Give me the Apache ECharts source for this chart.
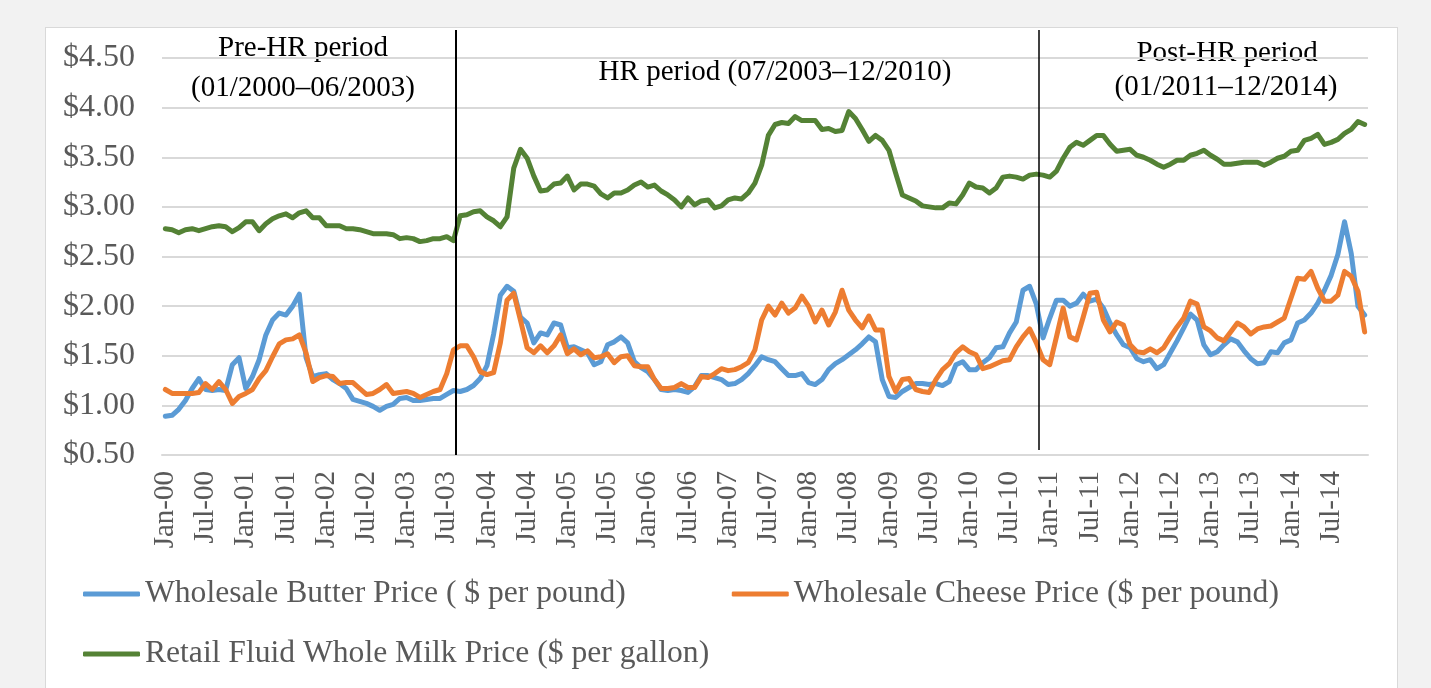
<!DOCTYPE html>
<html>
<head>
<meta charset="utf-8">
<script src="https://cdn.jsdelivr.net/npm/echarts@6/dist/echarts.min.js"></script>
<style>
html, body { margin: 0; padding: 0; width: 1431px; height: 688px; overflow: hidden; background: #f2f2f2; }
#panel { position: absolute; left: 45px; top: 27px; width: 1351px; height: 700px; background: #fff; border: 1px solid #d9d9d9; }
#chart { position: absolute; left: 0; top: 0; width: 1431px; height: 688px; }
</style>
</head>
<body>
<div id="panel"></div>
<div id="chart"></div>
<script>
// month axis, Jan 2000 .. Dec 2014
const monthNames = ['Jan','Feb','Mar','Apr','May','Jun','Jul','Aug','Sep','Oct','Nov','Dec'];
const years = ['00','01','02','03','04','05','06','07','08','09','10','11','12','13','14'];
const categories = [];
years.forEach(y => monthNames.forEach(m => categories.push(m + '-' + y)));

const seriesNames = [
    'Wholesale Butter Price ( $ per pound)',
    'Wholesale Cheese Price ($ per pound)',
    'Retail Fluid Whole Milk Price ($ per gallon)'
];

const butter = [
    0.89, 0.90, 0.96, 1.05, 1.17, 1.27, 1.16, 1.15, 1.16, 1.15, 1.41, 1.48,
    1.17, 1.29, 1.46, 1.71, 1.86, 1.93, 1.91, 2.00, 2.12, 1.48, 1.29, 1.31,
    1.32, 1.26, 1.22, 1.17, 1.06, 1.04, 1.02, 0.99, 0.95, 0.99, 1.01, 1.07,
    1.08, 1.05, 1.05, 1.06, 1.07, 1.07, 1.11, 1.15, 1.14, 1.16, 1.20, 1.27,
    1.40, 1.72, 2.11, 2.20, 2.15, 1.89, 1.83, 1.63, 1.73, 1.71, 1.83, 1.81,
    1.58, 1.59, 1.56, 1.53, 1.41, 1.44, 1.61, 1.64, 1.69, 1.63, 1.44, 1.38,
    1.34, 1.26, 1.16, 1.15, 1.16, 1.15, 1.13, 1.19, 1.30, 1.30, 1.28, 1.26,
    1.21, 1.22, 1.26, 1.32, 1.40, 1.49, 1.46, 1.44, 1.37, 1.30, 1.30, 1.32,
    1.23, 1.21, 1.26, 1.36, 1.42, 1.46, 1.51, 1.56, 1.62, 1.69, 1.64, 1.26,
    1.09, 1.08, 1.14, 1.18, 1.22, 1.22, 1.21, 1.22, 1.20, 1.24, 1.41, 1.44,
    1.36, 1.36, 1.43, 1.48, 1.58, 1.59, 1.73, 1.84, 2.16, 2.20, 2.02, 1.68,
    1.88, 2.06, 2.06, 2.00, 2.03, 2.12, 2.05, 2.07, 1.98, 1.83, 1.71, 1.61,
    1.58, 1.47, 1.44, 1.46, 1.37, 1.41, 1.53, 1.65, 1.78, 1.92, 1.86, 1.61,
    1.51, 1.54, 1.61, 1.67, 1.64, 1.55, 1.47, 1.42, 1.43, 1.54, 1.53, 1.63,
    1.66, 1.83, 1.86, 1.93, 2.03, 2.16, 2.31, 2.52, 2.85, 2.53, 2.00, 1.91
];

const cheese = [
    1.16, 1.12, 1.12, 1.12, 1.12, 1.13, 1.22, 1.16, 1.24, 1.16, 1.02, 1.09,
    1.12, 1.16, 1.27, 1.35, 1.49, 1.62, 1.66, 1.67, 1.71, 1.53, 1.24, 1.28,
    1.30, 1.29, 1.22, 1.23, 1.23, 1.17, 1.11, 1.12, 1.16, 1.21, 1.12, 1.13,
    1.14, 1.12, 1.08, 1.11, 1.14, 1.16, 1.32, 1.56, 1.60, 1.60, 1.49, 1.34,
    1.31, 1.33, 1.63, 2.06, 2.13, 1.86, 1.58, 1.53, 1.60, 1.53, 1.60, 1.71,
    1.52, 1.57, 1.51, 1.55, 1.48, 1.49, 1.52, 1.43, 1.49, 1.50, 1.40, 1.39,
    1.39, 1.26, 1.17, 1.17, 1.18, 1.22, 1.18, 1.18, 1.29, 1.28, 1.32, 1.37,
    1.35, 1.36, 1.39, 1.43, 1.56, 1.86, 2.00, 1.91, 2.03, 1.93, 1.98, 2.10,
    2.00, 1.84, 1.96, 1.81, 1.94, 2.16, 1.96, 1.86, 1.78, 1.90, 1.76, 1.76,
    1.29, 1.14, 1.26, 1.27, 1.16, 1.14, 1.13, 1.26, 1.36, 1.42, 1.53, 1.59,
    1.54, 1.51, 1.37, 1.39, 1.42, 1.45, 1.46, 1.59, 1.69, 1.77, 1.63, 1.46,
    1.41, 1.69, 1.98, 1.69, 1.66, 1.89, 2.13, 2.14, 1.86, 1.74, 1.84, 1.81,
    1.61, 1.54, 1.53, 1.57, 1.53, 1.58, 1.69, 1.79, 1.88, 2.05, 2.02, 1.79,
    1.75, 1.68, 1.65, 1.74, 1.83, 1.79, 1.72, 1.77, 1.79, 1.80, 1.84, 1.88,
    2.08, 2.28, 2.27, 2.35, 2.18, 2.05, 2.05, 2.11, 2.35, 2.30, 2.15, 1.74
];

const milk = [
    2.78, 2.77, 2.74, 2.77, 2.78, 2.76, 2.78, 2.80, 2.81, 2.80, 2.75, 2.79,
    2.85, 2.85, 2.76, 2.83, 2.88, 2.91, 2.93, 2.89, 2.94, 2.96, 2.89, 2.89,
    2.81, 2.81, 2.81, 2.78, 2.78, 2.77, 2.75, 2.73, 2.73, 2.73, 2.72, 2.68,
    2.69, 2.68, 2.65, 2.66, 2.68, 2.68, 2.70, 2.66, 2.91, 2.92, 2.95, 2.96,
    2.90, 2.86, 2.80, 2.90, 3.39, 3.58, 3.49, 3.31, 3.16, 3.17, 3.23, 3.24,
    3.31, 3.17, 3.23, 3.23, 3.21, 3.13, 3.09, 3.14, 3.14, 3.17, 3.22, 3.25,
    3.20, 3.22, 3.16, 3.12, 3.07, 3.00, 3.09, 3.02, 3.06, 3.07, 2.99, 3.01,
    3.07, 3.09, 3.08, 3.14, 3.24, 3.42, 3.72, 3.83, 3.85, 3.84, 3.91, 3.87,
    3.87, 3.87, 3.78, 3.79, 3.76, 3.77, 3.96, 3.89, 3.78, 3.66, 3.72, 3.67,
    3.57, 3.34, 3.12, 3.09, 3.06, 3.01, 3.00, 2.99, 2.99, 3.04, 3.03, 3.12,
    3.24, 3.20, 3.19, 3.14, 3.19, 3.30, 3.31, 3.30, 3.28, 3.32, 3.33, 3.32,
    3.30, 3.36, 3.49, 3.60, 3.65, 3.62, 3.67, 3.72, 3.72, 3.63, 3.56, 3.57,
    3.58, 3.52, 3.50, 3.47, 3.43, 3.40, 3.43, 3.47, 3.47, 3.52, 3.54, 3.57,
    3.52, 3.48, 3.43, 3.43, 3.44, 3.45, 3.45, 3.45, 3.42, 3.45, 3.49, 3.51,
    3.56, 3.57, 3.67, 3.69, 3.73, 3.63, 3.65, 3.68, 3.74, 3.78, 3.86, 3.83
];

// period boundaries, in months from Jan-2000
const periodBreaks = [43.84, 130.8];

const FONT = '"Liberation Serif", "Times New Roman", serif';
const colors = ['#5b9bd5', '#ed7d31', '#548235'];

const chart = echarts.init(document.getElementById('chart'));

const lineSeries = (name, data, color) => ({
    name: name,
    type: 'line',
    data: data,
    showSymbol: false,
    symbol: 'none',
    smooth: false,
    color: color,
    lineStyle: { color: color, width: 5, cap: 'round', join: 'round' },
    z: 3
});

const periodText = (text, x, y) => ({
    type: 'text',
    x: x,
    y: y,
    silent: true,
    style: {
        text: text,
        fill: '#000',
        font: '29px ' + FONT,
        textAlign: 'center',
        textVerticalAlign: 'middle'
    }
});

const legendBase = {
    left: 78,
    icon: 'roundRect',
    itemWidth: 57,
    itemHeight: 5,
    itemGap: 106,
    textStyle: { fontFamily: FONT, fontSize: 31.6, color: '#595959' },
    selectedMode: false
};

chart.setOption({
    backgroundColor: 'transparent',
    animation: false,
    textStyle: { fontFamily: FONT },
    grid: [
        { left: 162, right: 63, top: 58, bottom: 233, outerBoundsMode: 'none' },
        { left: 162, right: 63, top: 30, bottom: 233, outerBoundsMode: 'none' }
    ],
    legend: [
        Object.assign({}, legendBase, { top: 573, data: [seriesNames[0], seriesNames[1]] }),
        Object.assign({}, legendBase, { top: 633, data: [seriesNames[2]] })
    ],
    xAxis: [
        {
            type: 'category',
            data: categories,
            boundaryGap: true,
            axisLine: { show: true, lineStyle: { color: '#d9d9d9', width: 2 } },
            axisTick: { show: false },
            axisLabel: {
                interval: 5,
                rotate: 90,
                margin: 16,
                fontFamily: FONT,
                fontSize: 29,
                color: '#595959'
            },
            splitLine: { show: false }
        },
        { type: 'value', gridIndex: 1, min: 0, max: 180, show: false }
    ],
    yAxis: [
        {
            type: 'value',
            min: 0.5,
            max: 4.5,
            interval: 0.5,
            axisLine: { show: false },
            axisTick: { show: false },
            axisLabel: {
                margin: 27,
                fontFamily: FONT,
                fontSize: 32,
                color: '#595959',
                formatter: v => '$' + v.toFixed(2)
            },
            splitLine: { lineStyle: { color: '#d9d9d9', width: 2 } }
        },
        { type: 'value', gridIndex: 1, min: 0, max: 1, show: false }
    ],
    series: [
        lineSeries(seriesNames[0], butter, colors[0]),
        lineSeries(seriesNames[1], cheese, colors[1]),
        lineSeries(seriesNames[2], milk, colors[2]),
        {
            type: 'line',
            xAxisIndex: 1,
            yAxisIndex: 1,
            data: [],
            silent: true,
            z: 4,
            markLine: {
                silent: true,
                symbol: 'none',
                label: { show: false },
                data: [
                    [
                        { coord: [periodBreaks[0], 0], lineStyle: { color: '#000', width: 2, type: 'solid' } },
                        { coord: [periodBreaks[0], 1] }
                    ],
                    [
                        { coord: [periodBreaks[1], 0.012], lineStyle: { color: '#000', width: 1.5, type: 'solid' } },
                        { coord: [periodBreaks[1], 1] }
                    ]
                ]
            }
        }
    ],
    graphic: [
        periodText('Pre-HR period', 303, 48),
        periodText('(01/2000\u201306/2003)', 303, 88),
        periodText('HR period (07/2003\u201312/2010)', 775, 72),
        periodText('Post-HR period', 1227, 53),
        periodText('(01/2011\u201312/2014)', 1226, 87)
    ]
});
</script>
</body>
</html>
